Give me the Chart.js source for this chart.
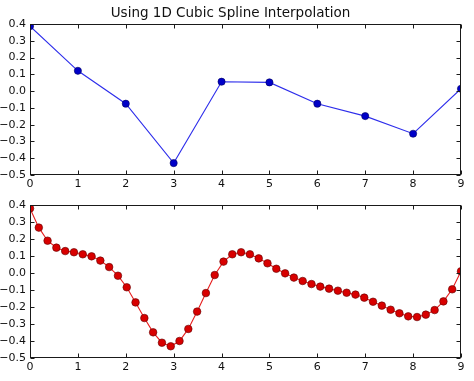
<!DOCTYPE html>
<html>
<head>
<meta charset="utf-8">
<script src="https://cdn.jsdelivr.net/npm/chart.js@4/dist/chart.umd.min.js"></script>
<style>
  html, body { margin: 0; padding: 0; background: #fff; }
  #wrap { position: relative; width: 474px; height: 381px; overflow: hidden; }
  .c { position: absolute; left: 0; }
</style>
</head>
<body>
<div id="wrap">
  <div class="c" style="top:0;width:474px;height:190px;"><canvas id="top"></canvas></div>
  <div class="c" style="top:190px;width:474px;height:191px;"><canvas id="bot"></canvas></div>
</div>
<script>
// Original samples (top panel)
const xOriginal = [0, 1, 2, 3, 4, 5, 6, 7, 8, 9];
const yOriginal = [0.387, 0.121, -0.075, -0.429, 0.056, 0.052, -0.075, -0.149, -0.254, 0.014];

// Cubic spline evaluated on 50 points over [0, 9] (bottom panel)
const xSpline = [
  0.000, 0.184, 0.367, 0.551, 0.735, 0.918, 1.102, 1.286, 1.469, 1.653,
  1.837, 2.020, 2.204, 2.388, 2.571, 2.755, 2.939, 3.122, 3.306, 3.490,
  3.673, 3.857, 4.041, 4.224, 4.408, 4.592, 4.776, 4.959, 5.143, 5.327,
  5.510, 5.694, 5.878, 6.061, 6.245, 6.429, 6.612, 6.796, 6.980, 7.163,
  7.347, 7.531, 7.714, 7.898, 8.082, 8.265, 8.449, 8.633, 8.816, 9.000
];
const ySpline = [
  0.380, 0.267, 0.190, 0.149, 0.129, 0.122, 0.110, 0.098, 0.073, 0.035,
  -0.016, -0.084, -0.173, -0.265, -0.349, -0.410, -0.431, -0.400, -0.329, -0.227,
  -0.118, -0.012, 0.067, 0.110, 0.122, 0.110, 0.086, 0.057, 0.025, -0.002,
  -0.027, -0.047, -0.065, -0.080, -0.092, -0.104, -0.116, -0.127, -0.145, -0.169,
  -0.192, -0.216, -0.237, -0.255, -0.259, -0.245, -0.218, -0.167, -0.096, 0.010
];

const xTicksMin = 0, xTicksMax = 9, xStep = 1;
const yTicksMin = -0.5, yTicksMax = 0.4, yStep = 0.1;
const titleText = 'Using 1D Cubic Spline Interpolation';

const FONT = 'DejaVu Sans';

const frameTicks = {
  id: 'frameTicks',
  afterDraw(chart) {
    const ctx = chart.ctx;
    const a = chart.chartArea;
    const xs = chart.scales.x, ys = chart.scales.y;
    const L = Math.round(a.left) + 0.5, R = Math.round(a.right) - 0.5;
    const T = Math.round(a.top) + 0.5, B = Math.round(a.bottom) - 0.5;
    const len = 4;
    ctx.save();
    ctx.strokeStyle = '#1a1a1a';
    ctx.lineWidth = 1;
    ctx.beginPath();
    xs.ticks.forEach(t => {
      const p = Math.round(xs.getPixelForValue(t.value)) + 0.5;
      ctx.moveTo(p, B); ctx.lineTo(p, B - len);
      ctx.moveTo(p, T); ctx.lineTo(p, T + len);
    });
    ys.ticks.forEach(t => {
      const p = Math.round(ys.getPixelForValue(t.value)) + 0.5;
      ctx.moveTo(L, p); ctx.lineTo(L + len, p);
      ctx.moveTo(R, p); ctx.lineTo(R - len, p);
    });
    ctx.stroke();
    ctx.strokeRect(L, T, R - L, B - T);
    ctx.restore();
  }
};

function fmtY(v) {
  if (Math.abs(v) < 1e-9) v = 0;
  return v.toFixed(1).replace('-', '\u2212');
}

function makeOptions(opts) {
  return {
    responsive: false,
    animation: false,
    devicePixelRatio: 1,
    layout: { padding: { top: opts.padTop, right: 13, left: 0, bottom: 0 } },
    plugins: {
      legend: { display: false },
      tooltip: { enabled: false },
      title: opts.title ? {
        display: true, text: opts.title, color: '#111',
        font: { family: FONT, size: 13.5, weight: 'normal' },
        padding: { top: 5, bottom: 2.8 }
      } : { display: false }
    },
    scales: {
      x: {
        type: 'linear', min: xTicksMin, max: xTicksMax,
        grid: { display: false, drawTicks: false },
        border: { display: false },
        ticks: {
          stepSize: xStep, autoSkip: false, maxRotation: 0, padding: 3,
          color: '#111', font: { family: FONT, size: 11 },
          callback: v => String(v)
        },
        afterFit: s => { s.height = opts.xAxisH; }
      },
      y: {
        type: 'linear', min: yTicksMin, max: yTicksMax,
        grid: { display: false, drawTicks: false },
        border: { display: false },
        ticks: {
          stepSize: yStep, autoSkip: false, padding: 4,
          color: '#111', font: { family: FONT, size: 11 },
          callback: v => fmtY(v)
        },
        afterFit: s => { s.width = 30; }
      }
    }
  };
}

function pts(xs, ys) { return xs.map((x, i) => ({ x: x, y: ys[i] })); }

const cTop = document.getElementById('top');
cTop.width = 474; cTop.height = 190;
new Chart(cTop, {
  type: 'line',
  data: {
    datasets: [{
      data: pts(xOriginal, yOriginal),
      borderColor: 'rgb(45,45,235)',
      borderWidth: 1.1,
      backgroundColor: '#0000c8',
      pointBackgroundColor: '#0000c8',
      pointBorderColor: '#000060',
      pointBorderWidth: 0.6,
      pointRadius: 3.6,
      tension: 0
    }]
  },
  options: makeOptions({ padTop: 0, title: titleText, xAxisH: 15 }),
  plugins: [frameTicks]
});

const cBot = document.getElementById('bot');
cBot.width = 474; cBot.height = 191;
new Chart(cBot, {
  type: 'line',
  data: {
    datasets: [{
      data: pts(xSpline, ySpline),
      borderColor: 'rgb(230,30,30)',
      borderWidth: 1.1,
      backgroundColor: '#d80000',
      pointBackgroundColor: '#d80000',
      pointBorderColor: '#600000',
      pointBorderWidth: 0.6,
      pointRadius: 3.8,
      tension: 0
    }]
  },
  options: makeOptions({ padTop: 15, title: null, xAxisH: 23 }),
  plugins: [frameTicks]
});
</script>
</body>
</html>
